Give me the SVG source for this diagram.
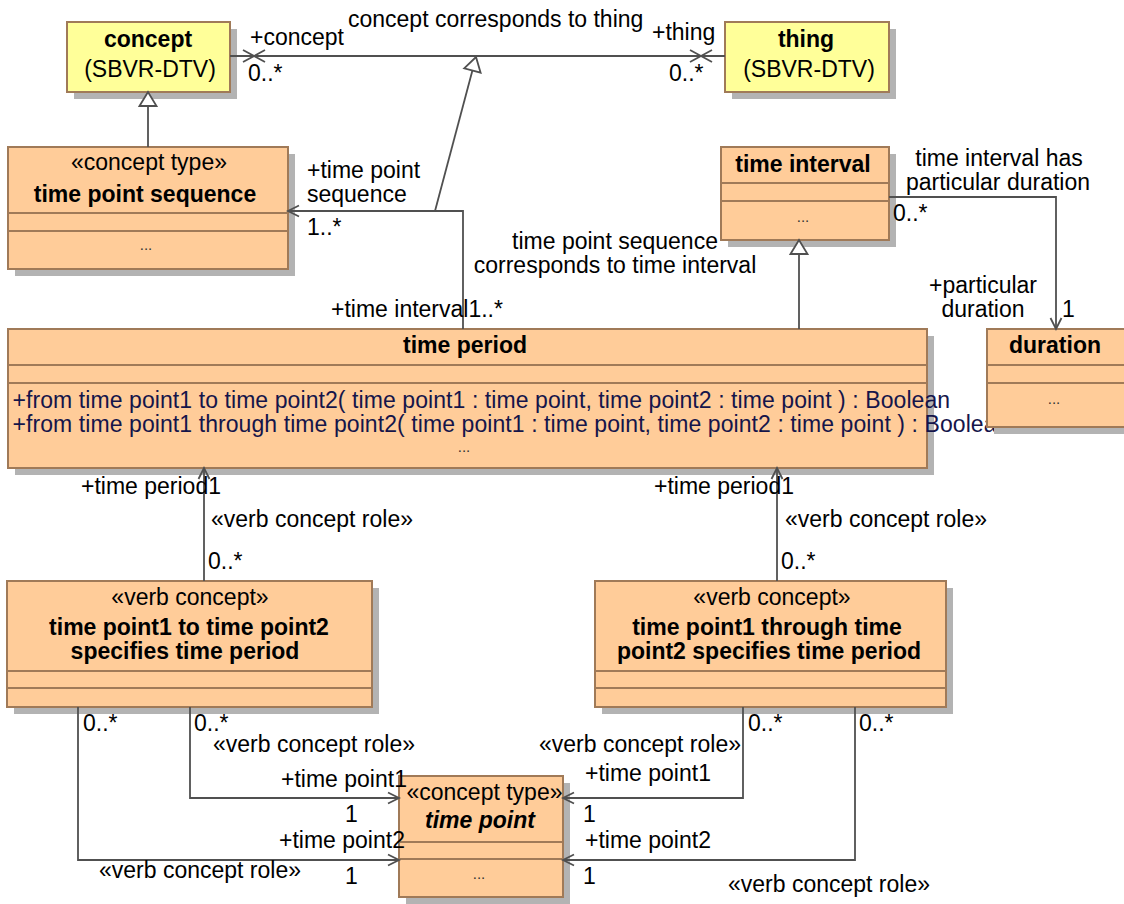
<svg xmlns="http://www.w3.org/2000/svg" width="1124" height="904" viewBox="0 0 1124 904">
<style>
text{font-family:"Liberation Sans",Arial,Helvetica,sans-serif;font-size:23px;fill:#000}
.b{font-weight:bold}
.bi{font-weight:bold;font-style:italic}
.c{text-anchor:middle}
.e{text-anchor:end}
.ops{fill:#15154a;letter-spacing:0.08px}
.dots{font-size:15px;fill:#333}
.shadow{fill:#b3b3b3}
.box{fill:#ffcc99;stroke:#a07a58;stroke-width:2}
.ybox{fill:#ffff99;stroke:#a07a58;stroke-width:2}
.sep{stroke:#a07a58;stroke-width:2}
.ln{fill:none;stroke:#505050;stroke-width:1.8}
</style>
<defs>
<marker id="open" viewBox="-14 -8 16 16" refX="0" refY="0" markerWidth="16" markerHeight="16" markerUnits="userSpaceOnUse" orient="auto" overflow="visible">
<path d="M-11,-5.5 L0,0 L-11,5.5" fill="none" stroke="#505050" stroke-width="1.8"/>
</marker>
<marker id="tri" viewBox="-16 -10 18 20" refX="0" refY="0" markerWidth="18" markerHeight="20" markerUnits="userSpaceOnUse" orient="auto" overflow="visible">
<path d="M-14,-8.5 L0,0 L-14,8.5 Z" fill="#fff" stroke="#505050" stroke-width="1.8"/>
</marker>
</defs>
<rect width="1124" height="904" fill="#fff"/>

<g id="concept">
<rect class="shadow" x="74" y="29" width="163" height="70"/>
<rect class="ybox" x="67" y="22" width="163" height="70"/>
<text class="b c" x="148" y="47">concept</text>
<text class="c" x="150" y="77">(SBVR-DTV)</text>
</g>

<g id="thing">
<rect class="shadow" x="732" y="29" width="164" height="70"/>
<rect class="ybox" x="725" y="22" width="164" height="70"/>
<text class="b c" x="806" y="47">thing</text>
<text class="c" x="809" y="77">(SBVR-DTV)</text>
</g>

<g id="time-point-sequence">
<rect class="shadow" x="15" y="154" width="280" height="122"/>
<rect class="box" x="8" y="147" width="280" height="122"/>
<line class="sep" x1="8" y1="213" x2="288" y2="213"/>
<line class="sep" x1="8" y1="231" x2="288" y2="231"/>
<text class="c" x="149" y="170">«concept type»</text>
<text class="b c" x="145" y="202">time point sequence</text>
<text class="c dots" x="146" y="250">...</text>
</g>

<g id="time-interval">
<rect class="shadow" x="728" y="154" width="168" height="93"/>
<rect class="box" x="721" y="147" width="168" height="93"/>
<line class="sep" x1="721" y1="183" x2="889" y2="183"/>
<line class="sep" x1="721" y1="201" x2="889" y2="201"/>
<text class="b c" x="803" y="172">time interval</text>
<text class="c dots" x="803" y="222">...</text>
</g>

<g id="time-period">
<rect class="shadow" x="15" y="336" width="919" height="139"/>
<rect class="box" x="8" y="329" width="919" height="139"/>
<line class="sep" x1="8" y1="365" x2="927" y2="365"/>
<line class="sep" x1="8" y1="383" x2="927" y2="383"/>
<text class="b c" x="465" y="353">time period</text>
<text class="ops" x="12.5" y="408">+from time point1 to time point2( time point1 : time point, time point2 : time point ) : Boolean</text>
<text class="ops" x="12.5" y="432">+from time point1 through time point2( time point1 : time point, time point2 : time point ) : Boolean</text>
<text class="c dots" x="464" y="452">...</text>
</g>

<g id="duration">
<rect class="shadow" x="994" y="336" width="140" height="98"/>
<rect class="box" x="987" y="329" width="140" height="98"/>
<line class="sep" x1="987" y1="365" x2="1127" y2="365"/>
<line class="sep" x1="987" y1="383" x2="1127" y2="383"/>
<text class="b c" x="1055" y="353">duration</text>
<text class="c dots" x="1054" y="404">...</text>
</g>

<g id="verb-concept-to">
<rect class="shadow" x="14" y="588" width="365" height="126"/>
<rect class="box" x="7" y="581" width="365" height="126"/>
<line class="sep" x1="7" y1="671" x2="372" y2="671"/>
<line class="sep" x1="7" y1="688" x2="372" y2="688"/>
<text class="c" x="190" y="605">«verb concept»</text>
<text class="b c" x="189" y="635">time point1 to time point2</text>
<text class="b c" x="185" y="659">specifies time period</text>
</g>

<g id="verb-concept-through">
<rect class="shadow" x="602" y="588" width="351" height="126"/>
<rect class="box" x="595" y="581" width="351" height="126"/>
<line class="sep" x1="595" y1="671" x2="946" y2="671"/>
<line class="sep" x1="595" y1="688" x2="946" y2="688"/>
<text class="c" x="772" y="605">«verb concept»</text>
<text class="b c" x="767" y="635">time point1 through time</text>
<text class="b c" x="769" y="659">point2 specifies time period</text>
</g>

<g id="time-point">
<rect class="shadow" x="406" y="783" width="164" height="121"/>
<rect class="box" x="399" y="776" width="164" height="121"/>
<line class="sep" x1="399" y1="842" x2="563" y2="842"/>
<line class="sep" x1="399" y1="859" x2="563" y2="859"/>
<text class="c" x="484.5" y="800">«concept type»</text>
<text class="bi c" x="480" y="828">time point</text>
<text class="c dots" x="479" y="879">...</text>
</g>

<g id="connectors">
<path class="ln" d="M230,56 L725,56"/>
<path class="ln" d="M243,50 L265,62 M243,62 L265,50"/>
<path class="ln" d="M690,50 L712,62 M690,62 L712,50"/>
<path class="ln" d="M148,147 L148,92" marker-end="url(#tri)"/>
<path class="ln" d="M463,329 L463,211 L288,211" marker-end="url(#open)"/>
<path class="ln" d="M435,211 L476,57" marker-end="url(#tri)"/>
<path class="ln" d="M799,329 L799,240" marker-end="url(#tri)"/>
<path class="ln" d="M889,197 L1056,197 L1056,329" marker-end="url(#open)"/>
<path class="ln" d="M204,581 L204,468" marker-end="url(#open)"/>
<path class="ln" d="M777,581 L777,468" marker-end="url(#open)"/>
<path class="ln" d="M190,707 L190,798 L399,798" marker-end="url(#open)"/>
<path class="ln" d="M78,707 L78,860 L399,860" marker-end="url(#open)"/>
<path class="ln" d="M743,707 L743,798 L563,798" marker-end="url(#open)"/>
<path class="ln" d="M855,707 L855,860 L563,860" marker-end="url(#open)"/>
</g>

<g id="labels">
<text x="348" y="27">concept corresponds to thing</text>
<text x="250" y="45">+concept</text>
<text x="248" y="81">0..*</text>
<text x="652" y="40">+thing</text>
<text x="669" y="81">0..*</text>
<text x="307" y="178">+time point</text>
<text x="307" y="202">sequence</text>
<text x="307" y="235">1..*</text>
<text class="c" x="615" y="249">time point sequence</text>
<text class="c" x="615" y="273">corresponds to time interval</text>
<text x="331" y="317">+time interval1..*</text>
<text class="c" x="999" y="166">time interval has</text>
<text class="c" x="998" y="190">particular duration</text>
<text x="893" y="221">0..*</text>
<text class="c" x="983" y="293">+particular</text>
<text class="c" x="983" y="317">duration</text>
<text x="1062" y="317">1</text>
<text x="81" y="494">+time period1</text>
<text x="211" y="527">«verb concept role»</text>
<text x="208" y="569">0..*</text>
<text x="654" y="494">+time period1</text>
<text x="785" y="527">«verb concept role»</text>
<text x="781" y="569">0..*</text>
<text x="83" y="731">0..*</text>
<text x="194" y="731">0..*</text>
<text x="213" y="752">«verb concept role»</text>
<text x="281" y="787">+time point1</text>
<text x="345" y="822">1</text>
<text x="279" y="848">+time point2</text>
<text x="99" y="878">«verb concept role»</text>
<text x="345" y="884">1</text>
<text x="748" y="731">0..*</text>
<text x="859" y="731">0..*</text>
<text class="e" x="741" y="752">«verb concept role»</text>
<text x="585" y="781">+time point1</text>
<text x="583" y="822">1</text>
<text x="585" y="848">+time point2</text>
<text x="583" y="884">1</text>
<text x="728" y="892">«verb concept role»</text>
</g>
</svg>
